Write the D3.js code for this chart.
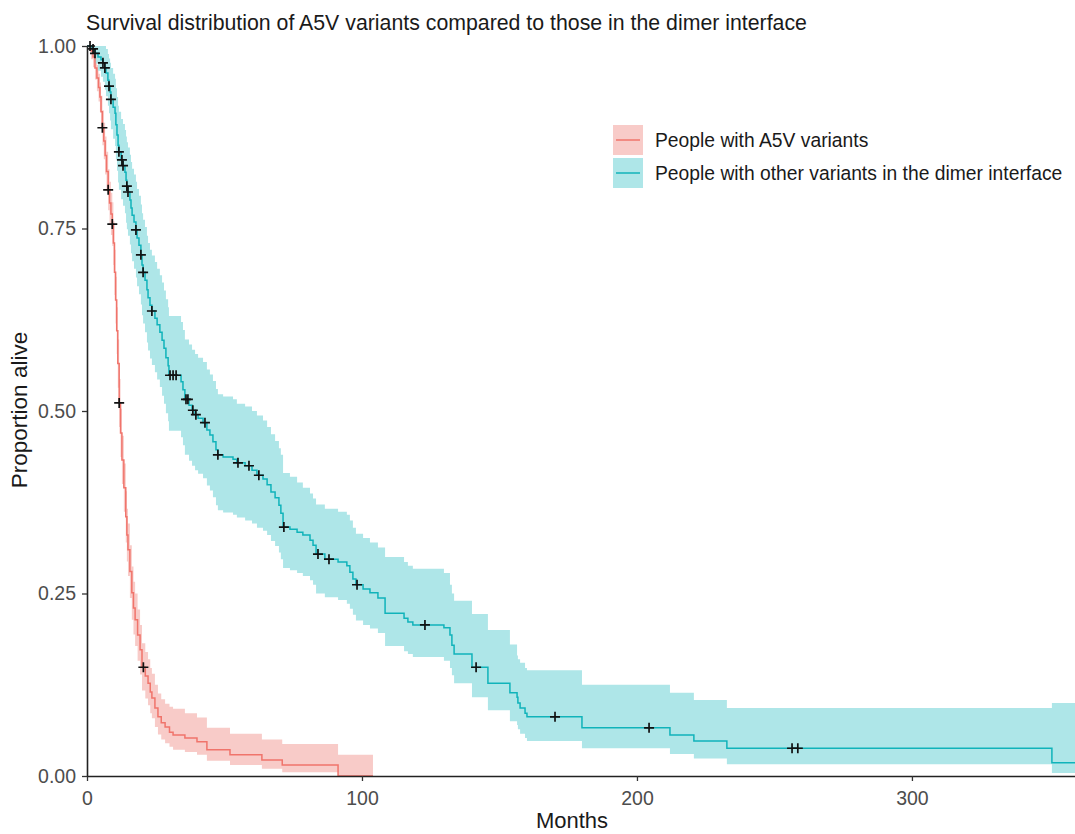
<!DOCTYPE html>
<html>
<head>
<meta charset="utf-8">
<script src="https://cdn.jsdelivr.net/npm/d3@7"></script>
<style>
  html, body { margin: 0; padding: 0; background: #fff; }
  svg { display: block; font-family: "Liberation Sans", Arial, sans-serif; }
</style>
</head>
<body>
<svg id="chart" width="1075" height="834"></svg>
<script>
// Kaplan-Meier estimates (months, survival proportion, 95% CI)
const a5vTime  = [0, 1.5, 2.2, 2.9, 3.6, 4.2, 4.7, 5.1, 5.6, 6.1, 6.6, 7.1, 7.7, 8.2, 8.7, 9.2, 9.6, 10.0, 10.4, 10.8, 11.2, 11.7, 12.2, 12.7, 13.4, 14.1, 14.5, 14.9, 15.6, 16.3, 16.9, 17.5, 18.4, 19.3, 20.0, 21.2, 22.2, 23.0, 23.6, 24.7, 25.8, 27.0, 28.4, 30.0, 31.3, 35.6, 40.0, 43.6, 52.0, 63.6, 71.0, 91.3, 104];
const a5vSurv  = [1.000, 0.993, 0.985, 0.970, 0.956, 0.943, 0.930, 0.910, 0.888, 0.870, 0.850, 0.828, 0.803, 0.785, 0.770, 0.756, 0.730, 0.690, 0.652, 0.610, 0.565, 0.511, 0.470, 0.433, 0.395, 0.355, 0.330, 0.310, 0.280, 0.251, 0.230, 0.214, 0.193, 0.173, 0.149, 0.137, 0.127, 0.115, 0.107, 0.093, 0.081, 0.073, 0.067, 0.060, 0.056, 0.052, 0.047, 0.036, 0.029, 0.022, 0.015, 0.000, 0.000];
const a5vLower = [1.000, 0.982, 0.971, 0.954, 0.938, 0.924, 0.910, 0.888, 0.864, 0.845, 0.824, 0.801, 0.775, 0.756, 0.741, 0.726, 0.700, 0.659, 0.620, 0.578, 0.532, 0.478, 0.437, 0.400, 0.362, 0.320, 0.294, 0.274, 0.244, 0.214, 0.194, 0.178, 0.158, 0.139, 0.117, 0.106, 0.097, 0.086, 0.079, 0.067, 0.057, 0.050, 0.045, 0.040, 0.036, 0.033, 0.029, 0.021, 0.015, 0.010, 0.005, 0.000, 0.000];
const a5vUpper = [1.000, 1.000, 0.998, 0.986, 0.974, 0.962, 0.950, 0.932, 0.912, 0.895, 0.876, 0.855, 0.831, 0.814, 0.799, 0.786, 0.760, 0.721, 0.684, 0.642, 0.598, 0.544, 0.503, 0.466, 0.428, 0.390, 0.366, 0.346, 0.316, 0.287, 0.266, 0.250, 0.228, 0.207, 0.182, 0.170, 0.160, 0.148, 0.140, 0.125, 0.113, 0.105, 0.099, 0.095, 0.092, 0.086, 0.080, 0.066, 0.058, 0.050, 0.044, 0.029, 0.029];
const a5vCensor = [5.6, 7.7, 9.2, 11.7, 20.5];

const dimerTime  = [0, 1.8, 2.9, 4.0, 5.1, 5.8, 6.5, 6.9, 7.6, 8.0, 8.4, 8.7, 9.5, 10.2, 10.5, 10.9, 11.3, 11.6, 12.4, 13.1, 13.8, 14.2, 14.5, 14.9, 15.6, 16.0, 16.4, 17.1, 17.8, 18.2, 18.9, 19.6, 20.0, 20.4, 21.1, 21.8, 22.2, 22.9, 23.6, 24.7, 25.5, 26.5, 27.3, 28.0, 28.7, 29.5, 29.8, 34.2, 34.9, 35.6, 37.1, 38.2, 39.3, 40.4, 42.2, 43.6, 44.7, 45.8, 46.9, 47.6, 49.5, 53.1, 54.5, 57.5, 60.0, 61.8, 64.0, 65.5, 66.9, 68.4, 69.8, 70.5, 71.3, 73.8, 76.4, 78.5, 81.1, 82.2, 83.3, 86.5, 91.3, 94.5, 95.6, 96.7, 97.8, 100.4, 102.9, 105.8, 108.4, 115.3, 116.7, 118.5, 129.8, 132.0, 132.7, 133.5, 140.0, 145.8, 153.8, 156.4, 156.7, 157.5, 159.3, 160.0, 180.0, 212.0, 220.7, 232.7, 350.9, 359.3];
const dimerSurv  = [1.000, 0.996, 0.990, 0.985, 0.981, 0.977, 0.970, 0.963, 0.953, 0.945, 0.937, 0.927, 0.916, 0.908, 0.892, 0.878, 0.864, 0.855, 0.844, 0.836, 0.827, 0.816, 0.808, 0.800, 0.789, 0.778, 0.768, 0.759, 0.748, 0.737, 0.727, 0.714, 0.700, 0.690, 0.679, 0.666, 0.655, 0.645, 0.637, 0.627, 0.618, 0.608, 0.597, 0.586, 0.573, 0.562, 0.549, 0.540, 0.529, 0.516, 0.508, 0.501, 0.495, 0.490, 0.484, 0.474, 0.467, 0.458, 0.447, 0.440, 0.437, 0.434, 0.429, 0.425, 0.419, 0.412, 0.407, 0.399, 0.389, 0.381, 0.371, 0.360, 0.341, 0.338, 0.334, 0.330, 0.323, 0.316, 0.304, 0.297, 0.293, 0.288, 0.279, 0.270, 0.262, 0.256, 0.251, 0.244, 0.223, 0.216, 0.211, 0.207, 0.203, 0.193, 0.179, 0.167, 0.149, 0.127, 0.114, 0.108, 0.100, 0.093, 0.086, 0.081, 0.066, 0.056, 0.048, 0.038, 0.018, 0.018];
const dimerLower = [1.000, 0.988, 0.976, 0.966, 0.958, 0.951, 0.940, 0.931, 0.918, 0.908, 0.898, 0.886, 0.873, 0.863, 0.845, 0.829, 0.813, 0.803, 0.790, 0.781, 0.771, 0.758, 0.749, 0.740, 0.728, 0.716, 0.705, 0.695, 0.683, 0.671, 0.660, 0.646, 0.631, 0.620, 0.608, 0.594, 0.583, 0.572, 0.563, 0.553, 0.543, 0.533, 0.521, 0.510, 0.497, 0.486, 0.473, 0.464, 0.453, 0.440, 0.432, 0.425, 0.419, 0.414, 0.408, 0.398, 0.391, 0.382, 0.371, 0.364, 0.361, 0.358, 0.354, 0.350, 0.346, 0.340, 0.336, 0.330, 0.322, 0.315, 0.306, 0.297, 0.285, 0.282, 0.278, 0.274, 0.268, 0.262, 0.250, 0.245, 0.241, 0.236, 0.229, 0.221, 0.213, 0.207, 0.202, 0.196, 0.178, 0.171, 0.167, 0.163, 0.158, 0.148, 0.138, 0.127, 0.108, 0.090, 0.075, 0.070, 0.064, 0.058, 0.052, 0.048, 0.038, 0.030, 0.024, 0.016, 0.004, 0.004];
const dimerUpper = [1.000, 1.000, 1.000, 1.000, 1.000, 1.000, 1.000, 0.996, 0.989, 0.983, 0.977, 0.970, 0.962, 0.955, 0.942, 0.930, 0.918, 0.910, 0.900, 0.893, 0.885, 0.876, 0.868, 0.861, 0.851, 0.841, 0.832, 0.824, 0.814, 0.804, 0.795, 0.783, 0.771, 0.762, 0.752, 0.740, 0.730, 0.721, 0.713, 0.704, 0.695, 0.686, 0.676, 0.665, 0.653, 0.642, 0.630, 0.622, 0.611, 0.598, 0.591, 0.584, 0.578, 0.573, 0.567, 0.557, 0.550, 0.541, 0.530, 0.523, 0.520, 0.516, 0.510, 0.506, 0.500, 0.494, 0.487, 0.478, 0.468, 0.459, 0.449, 0.440, 0.415, 0.410, 0.402, 0.395, 0.387, 0.380, 0.372, 0.366, 0.362, 0.358, 0.350, 0.340, 0.332, 0.326, 0.320, 0.313, 0.300, 0.293, 0.288, 0.284, 0.278, 0.262, 0.250, 0.240, 0.222, 0.200, 0.180, 0.165, 0.160, 0.155, 0.148, 0.145, 0.125, 0.114, 0.104, 0.093, 0.100, 0.100];
const dimerCensor = [1.1, 2.2, 2.9, 5.8, 6.5, 8.0, 8.7, 11.6, 12.7, 13.1, 14.5, 14.9, 17.8, 19.6, 20.4, 23.6, 30.2, 31.3, 32.4, 36.0, 36.7, 38.5, 39.6, 42.9, 47.6, 54.9, 58.9, 62.5, 71.6, 84.0, 88.0, 98.2, 122.9, 141.5, 170.2, 204.4, 256.4, 258.5];

const seriesNames = ["People with A5V variants", "People with other variants in the dimer interface"];
const lineColors = ["#f0746b", "#10b3ba"];
const bandColors = ["#f8cbc8", "#aee6e8"];

const xTicks = [0, 100, 200, 300];
const yTicks = [0, 0.25, 0.5, 0.75, 1];
const yTickLabels = ["0.00", "0.25", "0.50", "0.75", "1.00"];

const titleText = "Survival distribution of A5V variants compared to those in the dimer interface";
const xTitle = "Months";
const yTitle = "Proportion alive";

const svg = d3.select("#chart");
const plotLeft = 87, plotRight = 1075, plotTop = 46, plotBottom = 776;

const x = d3.scaleLinear().domain([0, 359.3]).range([plotLeft, plotRight]);
const y = d3.scaleLinear().domain([0, 1]).range([plotBottom, plotTop]);

svg.append("defs").append("clipPath").attr("id", "plotClip")
  .append("rect").attr("x", plotLeft).attr("y", plotTop - 10)
  .attr("width", plotRight - plotLeft).attr("height", plotBottom - plotTop + 10);

const groups = [
  { time: a5vTime, surv: a5vSurv, lower: a5vLower, upper: a5vUpper, censor: a5vCensor },
  { time: dimerTime, surv: dimerSurv, lower: dimerLower, upper: dimerUpper, censor: dimerCensor }
];

const plot = svg.append("g").attr("clip-path", "url(#plotClip)");

const band = d3.area()
  .curve(d3.curveStepAfter)
  .x(d => x(d.t))
  .y0(d => y(d.lo))
  .y1(d => y(d.hi));

const line = d3.line()
  .curve(d3.curveStepAfter)
  .x(d => x(d.t))
  .y(d => y(d.s));

const rows = groups.map(g => g.time.map((t, i) => ({ t, s: g.surv[i], lo: g.lower[i], hi: g.upper[i] })));

// confidence bands first, then the survival steps on top
rows.forEach((r, i) => {
  plot.append("path").datum(r).attr("d", band).attr("fill", bandColors[i]).attr("stroke", "none");
});
rows.forEach((r, i) => {
  plot.append("path").datum(r).attr("d", line).attr("fill", "none")
    .attr("stroke", lineColors[i]).attr("stroke-width", 1.5);
});

// censoring marks sit on the survival curve at each censored time
function survAt(g, t) {
  const i = d3.bisectRight(g.time, t) - 1;
  return g.surv[Math.max(0, i)];
}
groups.forEach(g => {
  g.censor.forEach(t => {
    const cx = x(t), cy = y(survAt(g, t));
    plot.append("path")
      .attr("d", `M${cx - 5},${cy}H${cx + 5}M${cx},${cy - 5}V${cy + 5}`)
      .attr("stroke", "#111").attr("stroke-width", 1.7).attr("fill", "none");
  });
});

// axes
const xAxis = d3.axisBottom(x).tickValues(xTicks).tickSize(5).tickSizeOuter(0).tickPadding(10);
const yAxis = d3.axisLeft(y).tickValues(yTicks).tickFormat((d, i) => yTickLabels[i]).tickSize(5).tickSizeOuter(0).tickPadding(6);

const gx = svg.append("g").attr("transform", `translate(0,${plotBottom})`).call(xAxis);
const gy = svg.append("g").attr("transform", `translate(${plotLeft},0)`).call(yAxis);

[gx, gy].forEach(g => {
  g.select(".domain").attr("stroke", "#222").attr("stroke-width", 1.6);
  g.selectAll(".tick line").attr("stroke", "#333").attr("stroke-width", 1.3);
  g.selectAll(".tick text").attr("fill", "#4d4d4d").style("font-size", "19.5px")
    .style("font-family", "'Liberation Sans', Arial, sans-serif");
});

// titles
svg.append("text").attr("x", 86).attr("y", 30)
  .attr("fill", "#1a1a1a").style("font-size", "21.3px").text(titleText);

svg.append("text").attr("x", 572).attr("y", 828).attr("text-anchor", "middle")
  .attr("fill", "#1a1a1a").style("font-size", "22px").text(xTitle);

svg.append("text").attr("transform", "translate(27,410) rotate(-90)").attr("text-anchor", "middle")
  .attr("fill", "#1a1a1a").style("font-size", "22.5px").text(yTitle);

// legend
const legend = svg.append("g").attr("transform", "translate(613,125)");
seriesNames.forEach((name, i) => {
  const ky = i * 33;
  legend.append("rect").attr("x", 0).attr("y", ky).attr("width", 30).attr("height", 30)
    .attr("fill", bandColors[i]);
  legend.append("line").attr("x1", 3).attr("x2", 27).attr("y1", ky + 15).attr("y2", ky + 15)
    .attr("stroke", lineColors[i]).attr("stroke-width", 1.5);
  legend.append("text").attr("x", 42).attr("y", ky + 15).attr("dy", "0.35em")
    .attr("fill", "#1a1a1a").style("font-size", "19.3px").text(name);
});
</script>
</body>
</html>
